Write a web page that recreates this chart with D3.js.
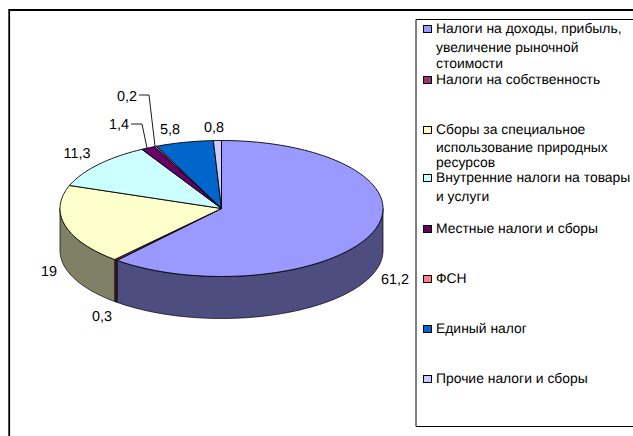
<!DOCTYPE html>
<html><head><meta charset="utf-8">
<script src="https://cdn.jsdelivr.net/npm/d3@7"></script>
<style>html,body{margin:0;padding:0;background:#fff;overflow:hidden}svg{display:block}text{font-family:"Liberation Sans",Arial,sans-serif;fill:#000;text-rendering:geometricPrecision}</style>
</head><body><div id="c"></div>
<script>
const categories=["Налоги на доходы, прибыль, увеличение рыночной стоимости","Налоги на собственность","Сборы за специальное использование природных ресурсов","Внутренние налоги на товары и услуги","Местные налоги и сборы","ФСН","Единый налог","Прочие налоги и сборы"];
const values=[61.2,0.3,19,11.3,1.4,0.2,5.8,0.8];
const valueLabels=["61,2","0,3","19","11,3","1,4","0,2","5,8","0,8"];
const colors=["#9999FF","#993366","#FFFFCC","#CCFFFF","#660066","#FF8080","#0066CC","#CCCCFF"];
const legendLines=[["Налоги на доходы, прибыль,","увеличение рыночной","стоимости"],["Налоги на собственность"],["Сборы за специальное","использование природных","ресурсов"],["Внутренние налоги на товары","и услуги"],["Местные налоги и сборы"],["ФСН"],["Единый налог"],["Прочие налоги и сборы"]];

const W=633,H=436,cx=221.5,cy=208.5,rx=161.5,ry=68,depth=42;
const svg=d3.select("#c").append("svg").attr("width",W).attr("height",H);
// frames
svg.append("path").attr("d",`M9.2,${H} V10 H${W}`).attr("fill","none").attr("stroke","#000").attr("stroke-width",1.8);
svg.append("path").attr("d",`M${W},19.5 H416 V426.5 H${W}`).attr("fill","none").attr("stroke","#000").attr("stroke-width",1);

const arcs=d3.pie().value(d=>d).sort(null).startAngle(0).endAngle(2*Math.PI)(values);
const px=a=>cx+rx*Math.sin(a), py=(a,dy=0)=>cy-ry*Math.cos(a)+dy;
const line=d3.line().x(d=>d[0]).y(d=>d[1]);
const samples=(a,b,dy)=>{const n=Math.max(2,Math.ceil((b-a)/0.02));return d3.range(n+1).map(i=>{const t=a+(b-a)*i/n;return [px(t),py(t,dy)];});};
const dark=c=>{const k=d3.rgb(c);return d3.rgb(k.r/2,k.g/2,k.b/2).formatHex();};

// side wall: visible where the angle runs between 90 and 270 degrees
const g=svg.append("g");
arcs.forEach((d,i)=>{
  const a=Math.max(d.startAngle,Math.PI/2),b=Math.min(d.endAngle,3*Math.PI/2);
  if(b<=a)return;
  const top=samples(a,b,0),bot=samples(a,b,depth).reverse();
  g.append("path").attr("d",line(top.concat(bot))+"Z").attr("fill",dark(colors[i])).attr("stroke","#000").attr("stroke-width",0.7).attr("stroke-linejoin","round");
});
// top face
arcs.forEach((d,i)=>{
  const pts=[[cx,cy]].concat(samples(d.startAngle,d.endAngle,0));
  g.append("path").attr("d",line(pts)+"Z").attr("fill",colors[i]).attr("stroke","#000").attr("stroke-width",0.9).attr("stroke-linejoin","round");
});

// data labels (label anchor + leaders)
const labelAt=[[395,284],[102,321],[49,276],[77,158],[119,129],[127,101],[170,134],[214,132]];
const fs=13.9;
svg.append("g").selectAll("text").data(valueLabels).join("text").attr("font-size",14.4).attr("text-anchor","middle")
  .attr("x",(d,i)=>labelAt[i][0]).attr("y",(d,i)=>labelAt[i][1]).text(d=>d);
const leaders=[[[131,124],[142,124],[147,148]],[[139,95],[149,95],[155,146]]];
svg.append("g").selectAll("path").data(leaders).join("path").attr("d",d=>line(d)).attr("fill","none").attr("stroke","#000").attr("stroke-width",0.9);

// legend
const legendY=[33,84,134,182,233,283,333,383];
const lineStep=[[0,19,35],[0],[0,18,33],[0,19],[0],[0],[0],[0]];
const lg=svg.append("g");
categories.forEach((c,i)=>{
  lg.append("rect").attr("x",423.5).attr("y",legendY[i]-7.5).attr("width",8).attr("height",7).attr("fill",colors[i]).attr("stroke","#000").attr("stroke-width",1);
  legendLines[i].forEach((t,j)=>lg.append("text").attr("x",436).attr("y",legendY[i]+lineStep[i][j]).attr("font-size",fs).text(t));
});
</script></body></html>
